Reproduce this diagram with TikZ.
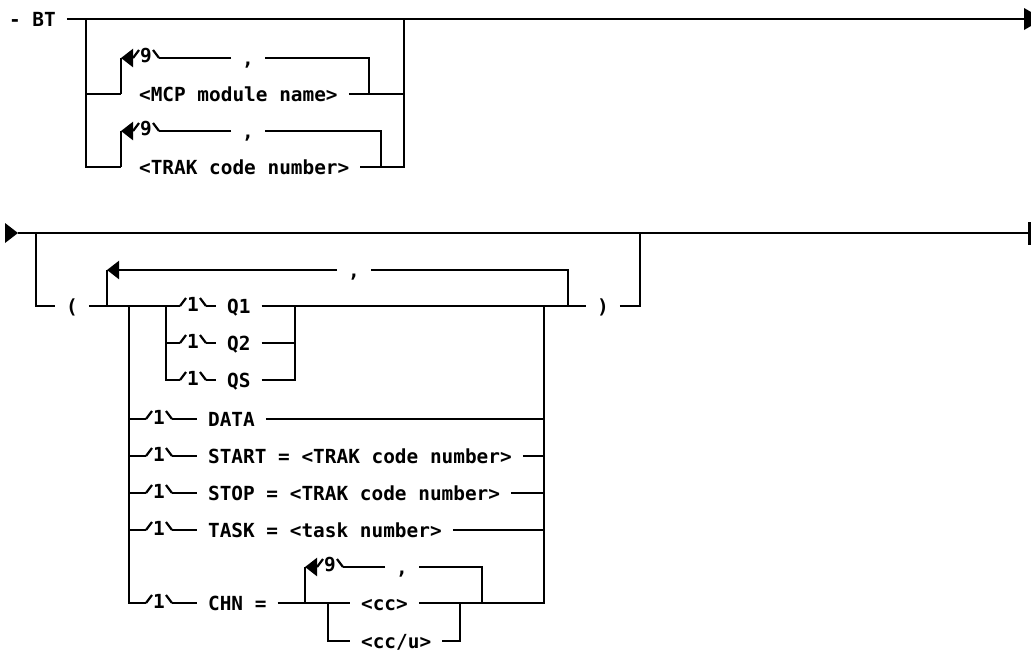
\documentclass[tikz,border=0pt]{standalone}
\usepackage{fontspec}
\setmonofont{DejaVu Sans Mono}
\usepackage{tikz}
\usetikzlibrary{calc,positioning}
\usetikzlibrary{arrows.meta}
\tikzset{>={Triangle[width=9pt,length=6pt]}}
\tikzset{rep/.pic={
    \coordinate (-in) at (0,0);
    \draw (0,0) -- (6,-8);
    \node[repnum] (-num) at (13,-2) {#1};
    \draw (20,-8) -- (26,0);
    \coordinate (-out) at (26,0);
  }}

\begin{document}
\begin{tikzpicture}[x=0.5pt,y=-0.5pt,line width=1.1pt]
  \tikzstyle{lbl} = [inner xsep=5pt, inner ysep=0pt, text height=7pt, text depth=0pt, font=\ttfamily\bfseries\fontsize{9.7}{11}\selectfont]
  \tikzstyle{repnum} = [inner sep=0pt, font=\ttfamily\bfseries\fontsize{9.7}{11}\selectfont]
  \useasboundingbox (0,0) rectangle (1031,653);

  % first line: BT and its optional list
  \node[lbl, anchor=west] (bt) at (-2,19) {- BT};
  \coordinate (e1) at (1024,19);
  \coordinate (o1l) at (86,19);
  \coordinate (o1r) at (404,19);
  \draw[-] (bt.east) to (e1);
  \fill (1024,8) -- (1031,12) -- (1031,26) -- (1024,30) -- cycle;

  \coordinate (m1l) at (121,94);
  \coordinate (m1r) at (369,94);
  \coordinate (m1tl) at (121,58);
  \node[lbl, anchor=west] (mcp) at (128,94) {<MCP module name>};
  \node[lbl] (m1c) at (248,58) {,};
  \pic (m1rep) at (133,58) {rep=9};

  \coordinate (t1l) at (121,167);
  \coordinate (t1r) at (381,167);
  \coordinate (t1tl) at (121,131);
  \node[lbl, anchor=west] (trak) at (128,167) {<TRAK code number>};
  \node[lbl] (t1c) at (248,131) {,};
  \pic (t1rep) at (133,131) {rep=9};

  \draw (o1l) |- (m1l);
  \draw (o1l) |- (t1l);
  \draw (mcp.east) -| (o1r);
  \draw (trak.east) -| (o1r);

  \draw (m1r) |- (m1c.east);
  \draw (m1c.west) -- (m1rep-out);
  \draw[->] (m1rep-in) -- (m1tl);
  \draw (m1tl) -- (m1l);

  \draw (t1r) |- (t1c.east);
  \draw (t1c.west) -- (t1rep-out);
  \draw[->] (t1rep-in) -- (t1tl);
  \draw (t1tl) -- (t1l);

  % second line: ( option list )
  \coordinate (s2) at (18,233);
  \coordinate (e2) at (1029,233);
  \fill (5,223) -- (s2) -- (5,243) -- cycle;
  \draw (s2) -- (e2);
  \draw[line width=1.5pt] (1029,222) -- (1029,245);

  \coordinate (b2l) at (36,233);
  \coordinate (b2r) at (640,233);
  \node[lbl] (lp) at (72,306) {(};
  \node[lbl] (rp) at (603,306) {)};
  \draw (b2l) |- (lp.west);
  \draw (rp.east) -| (b2r);

  % repeat loop over the options
  \coordinate (r2l) at (107,306);
  \coordinate (r2tl) at (107,270);
  \coordinate (r2r) at (568,306);
  \node[lbl] (r2c) at (354,270) {,};
  \draw (r2r) |- (r2c.east);
  \draw[->] (r2c.west) -- (r2tl);
  \draw (r2tl) -- (r2l);

  \coordinate (c2l) at (129,306);
  \coordinate (c2r) at (544,306);
  \coordinate (q2l) at (166,306);
  \coordinate (q2r) at (295,306);

  % Q1 / Q2 / QS
  \pic (q1rep) at (180,306) {rep=1};
  \node[lbl, anchor=west] (q1) at (216,306) {Q1};
  \draw (lp.east) -- (q1rep-in);
  \draw (q1rep-out) -- (q1.west);
  \draw (q1.east) -- (rp.west);

  \pic (q2rep) at (180,343) {rep=1};
  \node[lbl, anchor=west] (q2) at (216,343) {Q2};
  \draw (q2l) |- (q2rep-in);
  \draw (q2rep-out) -- (q2.west);
  \draw (q2.east) -| (q2r);

  \pic (qsrep) at (180,380) {rep=1};
  \node[lbl, anchor=west] (qs) at (216,380) {QS};
  \draw (q2l) |- (qsrep-in);
  \draw (qsrep-out) -- (qs.west);
  \draw (qs.east) -| (q2r);

  % single options
  \pic (darep) at (146,419) {rep=1};
  \node[lbl, anchor=west] (data) at (197,419) {DATA};
  \draw (c2l) |- (darep-in);
  \draw (darep-out) -- (data.west);
  \draw (data.east) -| (c2r);

  \pic (strep) at (146,456) {rep=1};
  \node[lbl, anchor=west] (start) at (197,456) {START = <TRAK code number>};
  \draw (c2l) |- (strep-in);
  \draw (strep-out) -- (start.west);
  \draw (start.east) -| (c2r);

  \pic (sprep) at (146,493) {rep=1};
  \node[lbl, anchor=west] (stop) at (197,493) {STOP = <TRAK code number>};
  \draw (c2l) |- (sprep-in);
  \draw (sprep-out) -- (stop.west);
  \draw (stop.east) -| (c2r);

  \pic (tkrep) at (146,530) {rep=1};
  \node[lbl, anchor=west] (task) at (197,530) {TASK = <task number>};
  \draw (c2l) |- (tkrep-in);
  \draw (tkrep-out) -- (task.west);
  \draw (task.east) -| (c2r);

  % CHN = list of cc or cc/u
  \pic (chrep) at (146,603) {rep=1};
  \node[lbl, anchor=west] (chn) at (197,603) {CHN =};
  \draw (c2l) |- (chrep-in);
  \draw (chrep-out) -- (chn.west);

  \coordinate (h2l) at (305,603);
  \coordinate (h2tl) at (305,567);
  \coordinate (h2r) at (482,603);
  \coordinate (u2l) at (328,603);
  \coordinate (u2r) at (460,603);
  \node[lbl, anchor=west] (cc) at (350,603) {<cc>};
  \node[lbl, anchor=west] (ccu) at (350,641) {<cc/u>};
  \node[lbl] (hc) at (402,567) {,};
  \pic (hrep) at (317,567) {rep=9};

  \draw (chn.east) -- (cc.west);
  \draw (cc.east) -| (c2r);
  \draw (h2r) |- (hc.east);
  \draw (hc.west) -- (hrep-out);
  \draw[->] (hrep-in) -- (h2tl);
  \draw (h2tl) -- (h2l);
  \draw (u2l) |- (ccu.west);
  \draw (ccu.east) -| (u2r);
\end{tikzpicture}
\end{document}
